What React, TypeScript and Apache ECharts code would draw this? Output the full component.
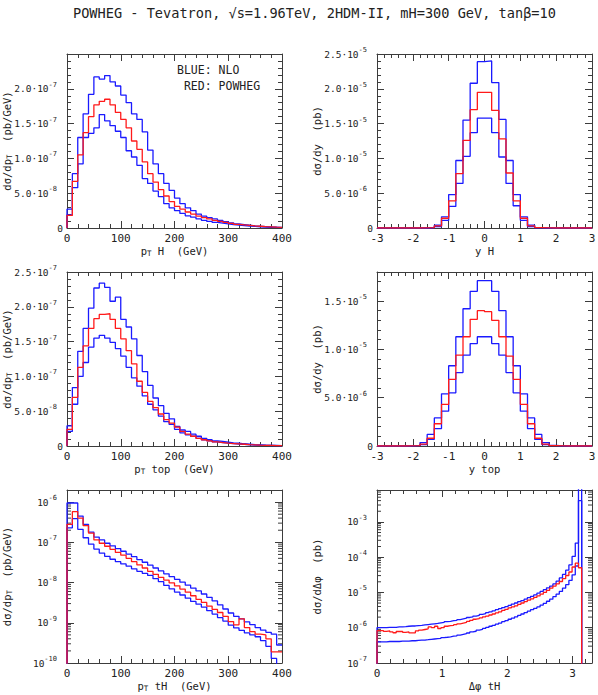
import React, { useEffect, useRef } from 'react';
import * as echarts from 'echarts';

// ---------------- data ----------------
// pT H histogram, 10 GeV bins from 0 to 400, units of 1e-7 pb/GeV
const ptHUpper = [0.27, 0.78, 1.30, 1.64, 1.92, 2.17, 2.14, 2.19, 2.10, 2.04, 1.91, 1.80, 1.64, 1.56, 1.38, 1.12, 0.92, 0.78, 0.64, 0.54, 0.43, 0.35, 0.29, 0.25, 0.20, 0.17, 0.15, 0.13, 0.11, 0.09, 0.075, 0.06, 0.05, 0.04, 0.032, 0.025, 0.02, 0.015, 0.012, 0.01];
const ptHRed = [0.18, 0.67, 1.05, 1.37, 1.60, 1.77, 1.82, 1.85, 1.77, 1.66, 1.56, 1.44, 1.25, 1.13, 0.95, 0.78, 0.66, 0.55, 0.46, 0.38, 0.31, 0.27, 0.23, 0.20, 0.17, 0.15, 0.13, 0.11, 0.095, 0.08, 0.066, 0.053, 0.045, 0.038, 0.03, 0.025, 0.02, 0.016, 0.012, 0.01];
const ptHLower = [0.19, 0.58, 0.92, 1.30, 1.36, 1.44, 1.63, 1.54, 1.47, 1.39, 1.30, 1.11, 1.02, 0.90, 0.71, 0.64, 0.53, 0.45, 0.35, 0.29, 0.25, 0.21, 0.175, 0.155, 0.13, 0.11, 0.095, 0.08, 0.07, 0.06, 0.05, 0.042, 0.035, 0.028, 0.022, 0.017, 0.013, 0.01, 0.008, 0.006];

// y H histogram, 0.2 bins from -3 to 3, units of 1e-5 pb
const yHUpper = [0, 0, 0, 0, 0, 0, 0.0005, 0.005, 0.04, 0.16, 0.48, 0.97, 1.55, 2.08, 2.39, 2.40, 2.09, 1.56, 0.97, 0.48, 0.16, 0.04, 0.005, 0.0005, 0, 0, 0, 0, 0, 0];
const yHRed = [0, 0, 0, 0, 0, 0, 0.0004, 0.004, 0.03, 0.14, 0.39, 0.78, 1.26, 1.70, 1.95, 1.95, 1.69, 1.28, 0.79, 0.39, 0.14, 0.03, 0.004, 0.0004, 0, 0, 0, 0, 0, 0];
const yHLower = [0, 0, 0, 0, 0, 0, 0.0003, 0.003, 0.02, 0.11, 0.31, 0.64, 1.03, 1.37, 1.58, 1.58, 1.37, 1.02, 0.64, 0.32, 0.11, 0.02, 0.003, 0.0003, 0, 0, 0, 0, 0, 0];

// pT top histogram, 10 GeV bins from 0 to 400, units of 1e-7 pb/GeV
const ptTopUpper = [0.29, 0.84, 1.36, 1.69, 1.98, 2.27, 2.34, 2.28, 2.08, 2.14, 1.82, 1.71, 1.54, 1.30, 1.07, 0.87, 0.69, 0.58, 0.47, 0.39, 0.28, 0.23, 0.21, 0.17, 0.14, 0.11, 0.09, 0.075, 0.065, 0.055, 0.045, 0.04, 0.032, 0.026, 0.02, 0.016, 0.012, 0.01, 0.008, 0.006];
const ptTopRed = [0.24, 0.70, 1.13, 1.44, 1.69, 1.83, 1.89, 1.90, 1.82, 1.69, 1.54, 1.37, 1.18, 0.93, 0.77, 0.64, 0.55, 0.46, 0.38, 0.33, 0.27, 0.21, 0.17, 0.14, 0.11, 0.09, 0.075, 0.06, 0.05, 0.04, 0.035, 0.03, 0.025, 0.02, 0.016, 0.012, 0.01, 0.008, 0.006, 0.005];
const ptTopLower = [0.21, 0.60, 1.00, 1.20, 1.42, 1.55, 1.59, 1.55, 1.49, 1.40, 1.29, 1.13, 0.98, 0.86, 0.72, 0.60, 0.52, 0.43, 0.35, 0.31, 0.24, 0.19, 0.16, 0.14, 0.11, 0.09, 0.075, 0.06, 0.05, 0.04, 0.033, 0.027, 0.022, 0.018, 0.014, 0.011, 0.009, 0.007, 0.005, 0.004];

// y top histogram, 0.2 bins from -3 to 3, units of 1e-5 pb
const yTopUpper = [0, 0, 0, 0, 0.001, 0.007, 0.035, 0.12, 0.29, 0.54, 0.83, 1.13, 1.42, 1.60, 1.71, 1.71, 1.60, 1.40, 1.13, 0.83, 0.54, 0.29, 0.12, 0.035, 0.007, 0.001, 0, 0, 0, 0];
const yTopRed = [0, 0, 0, 0, 0.001, 0.004, 0.02, 0.08, 0.23, 0.43, 0.69, 0.94, 1.13, 1.31, 1.40, 1.39, 1.30, 1.13, 0.93, 0.69, 0.43, 0.23, 0.08, 0.02, 0.004, 0.001, 0, 0, 0, 0];
const yTopLower = [0, 0, 0, 0, 0.0005, 0.003, 0.015, 0.07, 0.18, 0.36, 0.55, 0.76, 0.94, 1.06, 1.13, 1.13, 1.06, 0.94, 0.76, 0.55, 0.36, 0.18, 0.07, 0.015, 0.003, 0.0005, 0, 0, 0, 0];

// pT tH histogram, 10 GeV bins from 0 to 400, pb/GeV
const ptTHUpper = [9.5e-7, 9.5e-7, 4.5e-7, 2.8e-7, 1.8e-7, 1.35e-7, 1.15e-7, 9.5e-8, 8.2e-8, 7.0e-8, 6.0e-8, 5.1e-8, 4.4e-8, 3.7e-8, 3.2e-8, 2.7e-8, 2.3e-8, 1.95e-8, 1.65e-8, 1.4e-8, 1.2e-8, 1.02e-8, 8.6e-9, 7.3e-9, 6.2e-9, 5.2e-9, 4.3e-9, 3.5e-9, 2.8e-9, 2.2e-9, 1.75e-9, 1.45e-9, 1.25e-9, 1.05e-9, 9e-10, 7.6e-10, 6.6e-10, 5.8e-10, 5.2e-10, 2.8e-10];
const ptTHRed = [2.8e-7, 5.8e-7, 4.0e-7, 2.6e-7, 1.7e-7, 1.15e-7, 9.5e-8, 8e-8, 6.7e-8, 5.6e-8, 4.8e-8, 4.0e-8, 3.3e-8, 2.75e-8, 2.3e-8, 1.9e-8, 1.6e-8, 1.35e-8, 1.15e-8, 9.8e-9, 8.3e-9, 6.9e-9, 5.75e-9, 4.7e-9, 3.8e-9, 3.2e-9, 2.6e-9, 2.15e-9, 1.8e-9, 1.45e-9, 1.07e-9, 8.9e-10, 1.25e-9, 7.6e-10, 6e-10, 5.2e-10, 5e-10, 4e-10, 1.9e-10, 1.9e-10];
const ptTHLower = [2.3e-7, 3.9e-7, 2.1e-7, 1.3e-7, 9e-8, 6.8e-8, 5.4e-8, 4.5e-8, 3.8e-8, 3.3e-8, 2.9e-8, 2.55e-8, 2.2e-8, 1.9e-8, 1.7e-8, 1.5e-8, 1.25e-8, 1.05e-8, 8.5e-9, 7e-9, 5.8e-9, 4.9e-9, 4.1e-9, 3.4e-9, 2.9e-9, 2.45e-9, 2.0e-9, 1.65e-9, 1.35e-9, 1.1e-9, 8.7e-10, 7.5e-10, 6.5e-10, 5.6e-10, 5e-10, 4.5e-10, 3.6e-10, 2.6e-10, 1.3e-10, 9e-11];

// delta phi tH histogram, 64 bins from 0 to pi, pb
const dphiUpper = [1.0e-6, 1.0e-6, 1.0e-6, 1.02e-6, 1.02e-6, 1.02e-6, 1.05e-6, 1.05e-6, 1.07e-6, 1.1e-6,
  1.12e-6, 1.12e-6, 1.15e-6, 1.17e-6, 1.2e-6, 1.23e-6, 1.26e-6, 1.29e-6, 1.32e-6, 1.38e-6,
  1.41e-6, 1.48e-6, 1.51e-6, 1.58e-6, 1.62e-6, 1.7e-6, 1.78e-6, 1.86e-6, 1.95e-6, 2.04e-6,
  2.14e-6, 2.24e-6, 2.4e-6, 2.51e-6, 2.69e-6, 2.82e-6, 3.02e-6, 3.24e-6, 3.47e-6, 3.72e-6,
  3.98e-6, 4.27e-6, 4.68e-6, 5.01e-6, 5.5e-6, 5.89e-6, 6.46e-6, 7.08e-6, 7.76e-6, 8.51e-6,
  9.55e-6, 1.07e-5, 1.2e-5, 1.35e-5, 1.51e-5, 1.74e-5, 2.09e-5, 2.57e-5, 3.24e-5, 4.27e-5,
  6.03e-5, 1.05e-4, 2.5e-4, 3e-2];
const dphiRed = [8.3e-7, 8.3e-7, 7.9e-7, 8.1e-7, 7.6e-7, 7.2e-7, 7.8e-7, 7.9e-7, 7.4e-7, 7.6e-7,
  7.1e-7, 7.2e-7, 8.1e-7, 8.5e-7, 8.9e-7, 9.3e-7, 1.05e-6, 1.0e-6, 1.1e-6, 9.5e-7,
  1.0e-6, 1.1e-6, 1.15e-6, 1.17e-6, 1.23e-6, 1.29e-6, 1.35e-6, 1.41e-6, 1.51e-6, 1.62e-6,
  1.74e-6, 1.82e-6, 1.91e-6, 2.04e-6, 2.14e-6, 2.29e-6, 2.45e-6, 2.63e-6, 2.82e-6, 3.09e-6,
  3.31e-6, 3.63e-6, 3.89e-6, 4.17e-6, 4.57e-6, 5.01e-6, 5.5e-6, 6.03e-6, 6.61e-6, 7.24e-6,
  7.94e-6, 8.91e-6, 1.0e-5, 1.15e-5, 1.32e-5, 1.51e-5, 1.74e-5, 2.04e-5, 2.45e-5, 3.02e-5,
  3.8e-5, 5.25e-5, 6.76e-5, 5.0e-5];
const dphiLower = [3.98e-7, 3.98e-7, 3.98e-7, 4.07e-7, 4.07e-7, 4.07e-7, 4.07e-7, 4.17e-7, 4.17e-7, 4.17e-7,
  4.27e-7, 4.27e-7, 4.37e-7, 4.47e-7, 4.47e-7, 4.57e-7, 4.68e-7, 4.79e-7, 4.9e-7, 5.01e-7,
  5.25e-7, 5.37e-7, 5.5e-7, 5.75e-7, 5.89e-7, 6.17e-7, 6.46e-7, 6.76e-7, 7.08e-7, 7.59e-7,
  7.94e-7, 8.51e-7, 8.91e-7, 9.55e-7, 1.02e-6, 1.1e-6, 1.17e-6, 1.26e-6, 1.35e-6, 1.48e-6,
  1.58e-6, 1.74e-6, 1.86e-6, 2.04e-6, 2.24e-6, 2.45e-6, 2.69e-6, 2.95e-6, 3.24e-6, 3.55e-6,
  3.89e-6, 4.37e-6, 4.9e-6, 5.62e-6, 6.46e-6, 7.59e-6, 8.91e-6, 1.07e-5, 1.32e-5, 1.66e-5,
  2.19e-5, 3.16e-5, 5.62e-5, 4e-3];

const titleText = 'POWHEG - Tevatron, \u221As=1.96TeV, 2HDM-II, mH=300 GeV, tan\u03B2=10';
const legendLines = ['BLUE: NLO', ' RED: POWHEG'];

// ---------------- helpers ----------------
const FONT = "'DejaVu Sans Mono', monospace";
const TXT = '#222';
const FRAME = '#3c3c3c';
const BLUE = '#1a1aff';
const RED = '#ff1a1a';

const edges = (start: number, width: number, n: number) => Array.from({ length: n + 1 }, (_, i) => start + i * width);

function stepData(e: number[], vals: number[], scale: number, base: number, dropAtEnd: boolean) {
  const pts: number[][] = [[e[0], base]];
  vals.forEach((v, i) => pts.push([e[i], v * scale]));
  pts.push([e[vals.length], dropAtEnd ? base : vals[vals.length - 1] * scale]);
  return pts;
}

const richText = {
  b: { fontFamily: FONT, fontSize: 9.5, lineHeight: 15, color: TXT },
  s: { fontFamily: FONT, fontSize: 7, lineHeight: 7, verticalAlign: 'top', color: TXT },
  g: { width: 6, fontSize: 9.5, lineHeight: 15 },
};
const nameRich = {
  b: { fontFamily: FONT, fontSize: 10.5, lineHeight: 12, color: TXT },
  t: { fontFamily: FONT, fontSize: 7.5, lineHeight: 6, verticalAlign: 'bottom', color: TXT },
};

const sciFmt = (v: number) => {
  if (v === 0) return '{b|0}';
  const e = Math.floor(Math.log10(Math.abs(v)) + 1e-9);
  const m = v / Math.pow(10, e);
  return `{b|${m.toFixed(1)}\u00B710}{s|${e}}{g| }`;
};
const logFmt = (v: number) => {
  const l = Math.log10(v);
  const r = Math.round(l);
  if (Math.abs(l - r) > 0.01) return '';
  return `{b|10}{s|${r}}{g| }`;
};
const intFmt = (v: number) => (Math.abs(v - Math.round(v)) < 1e-6 ? String(Math.round(v)) : '');

type Panel = {
  left: number; top: number; height: number;
  xMin: number; xMax: number; xInt: number;
  yLog: boolean; yMin: number; yMax: number; yInt?: number; showYMax: boolean;
  xName: string; yName: string;
  series: { data: number[][]; color: string }[];
  logMinor?: number[];
};

function buildOption() {
  const ptE = edges(0, 10, 40);
  const yE = edges(-3, 0.2, 30);
  const dE = edges(0, Math.PI / 64, 64);
  const LOGBASE = 1e-14;

  const minorTicks = (lo: number, hi: number, max: number) => {
    const out: number[] = [];
    for (let d = lo; d <= hi; d++) for (let k = 2; k <= 9; k++) {
      const v = k * Math.pow(10, d);
      if (v < max) out.push(v);
    }
    return out;
  };

  const W = 215;
  const panels: Panel[] = [
    {
      left: 67, top: 54, height: 174, xMin: 0, xMax: 400, xInt: 100,
      yLog: false, yMin: 0, yMax: 2.5e-7, yInt: 5e-8, showYMax: false,
      xName: '{b|p}{t|T}{b| H  (GeV)}', yName: '{b|d\u03C3/dp}{t|T}{b|  (pb/GeV)}',
      series: [
        { data: stepData(ptE, ptHUpper, 1e-7, 0, false), color: BLUE },
        { data: stepData(ptE, ptHLower, 1e-7, 0, false), color: BLUE },
        { data: stepData(ptE, ptHRed, 1e-7, 0, false), color: RED },
      ],
    },
    {
      left: 377, top: 54, height: 174, xMin: -3, xMax: 3, xInt: 1,
      yLog: false, yMin: 0, yMax: 2.5e-5, yInt: 5e-6, showYMax: true,
      xName: '{b|y H}', yName: '{b|d\u03C3/dy  (pb)}',
      series: [
        { data: stepData(yE, yHUpper, 1e-5, 0, false), color: BLUE },
        { data: stepData(yE, yHLower, 1e-5, 0, false), color: BLUE },
        { data: stepData(yE, yHRed, 1e-5, 0, false), color: RED },
      ],
    },
    {
      left: 67, top: 272, height: 174, xMin: 0, xMax: 400, xInt: 100,
      yLog: false, yMin: 0, yMax: 2.5e-7, yInt: 5e-8, showYMax: true,
      xName: '{b|p}{t|T}{b| top  (GeV)}', yName: '{b|d\u03C3/dp}{t|T}{b|  (pb/GeV)}',
      series: [
        { data: stepData(ptE, ptTopUpper, 1e-7, 0, false), color: BLUE },
        { data: stepData(ptE, ptTopLower, 1e-7, 0, false), color: BLUE },
        { data: stepData(ptE, ptTopRed, 1e-7, 0, false), color: RED },
      ],
    },
    {
      left: 377, top: 272, height: 174, xMin: -3, xMax: 3, xInt: 1,
      yLog: false, yMin: 0, yMax: 1.8e-5, yInt: 5e-6, showYMax: false,
      xName: '{b|y top}', yName: '{b|d\u03C3/dy  (pb)}',
      series: [
        { data: stepData(yE, yTopUpper, 1e-5, 0, false), color: BLUE },
        { data: stepData(yE, yTopLower, 1e-5, 0, false), color: BLUE },
        { data: stepData(yE, yTopRed, 1e-5, 0, false), color: RED },
      ],
    },
    {
      left: 67, top: 490, height: 173, xMin: 0, xMax: 400, xInt: 100,
      yLog: true, yMin: 1e-10, yMax: 2e-6, showYMax: false,
      xName: '{b|p}{t|T}{b| tH  (GeV)}', yName: '{b|d\u03C3/dp}{t|T}{b|  (pb/GeV)}',
      series: [
        { data: stepData(ptE, ptTHUpper, 1, LOGBASE, false), color: BLUE },
        { data: stepData(ptE, ptTHLower, 1, LOGBASE, false), color: BLUE },
        { data: stepData(ptE, ptTHRed, 1, LOGBASE, false), color: RED },
      ],
      logMinor: minorTicks(-10, -6, 2e-6),
    },
    {
      left: 377, top: 490, height: 173, xMin: 0, xMax: 3.3, xInt: 1,
      yLog: true, yMin: 1e-7, yMax: 8e-3, showYMax: false,
      xName: '{b|\u0394\u03C6 tH}', yName: '{b|d\u03C3/d\u0394\u03C6  (pb)}',
      series: [
        { data: stepData(dE, dphiUpper, 1, LOGBASE, true), color: BLUE },
        { data: stepData(dE, dphiLower, 1, LOGBASE, true), color: BLUE },
        { data: stepData(dE, dphiRed, 1, LOGBASE, true), color: RED },
      ],
      logMinor: minorTicks(-7, -3, 8e-3),
    },
  ];

  const grid: any[] = [];
  const xAxis: any[] = [];
  const yAxis: any[] = [];
  const series: any[] = [];

  const tickCommon = {
    splitLine: { show: false },
    axisLine: { show: true, onZero: false, lineStyle: { color: FRAME, width: 1 } },
    axisTick: { show: true, inside: true, length: 7, lineStyle: { color: FRAME, width: 1 } },
  };

  panels.forEach((p, g) => {
    grid.push({ left: p.left, top: p.top, width: W, height: p.height, outerBoundsMode: 'none' });
    const xBase = {
      ...tickCommon, type: 'value', gridIndex: g, min: p.xMin, max: p.xMax, interval: p.xInt,
      minorTick: { show: true, splitNumber: 5, length: 4, lineStyle: { color: FRAME, width: 1 } },
    };
    xAxis.push({
      ...xBase, position: 'bottom',
      axisLabel: { show: true, margin: 4, fontFamily: FONT, fontSize: 11, lineHeight: 12, color: TXT, formatter: intFmt, showMaxLabel: p.xMax !== 3.3 },
      name: p.xName, nameLocation: 'middle', nameGap: 17, nameMoveOverlap: false,
      nameTextStyle: { rich: nameRich, color: TXT },
    });
    xAxis.push({ ...xBase, position: 'top', axisLabel: { show: false } });

    const yBase: any = p.yLog
      ? {
          ...tickCommon, type: 'log', logBase: 10, gridIndex: g, min: p.yMin, max: p.yMax,
          minorTick: { show: false },
        }
      : {
          ...tickCommon, type: 'value', gridIndex: g, min: p.yMin, max: p.yMax, interval: p.yInt,
          minorTick: { show: true, splitNumber: 5, length: 4, lineStyle: { color: FRAME, width: 1 } },
        };
    yAxis.push({
      ...yBase, position: 'left',
      axisLabel: {
        show: true, margin: 4, formatter: p.yLog ? logFmt : sciFmt, rich: richText,
        showMaxLabel: p.showYMax, showMinLabel: true,
      },
      name: p.yName, nameLocation: 'middle', nameGap: 54, nameMoveOverlap: false,
      nameTextStyle: { rich: nameRich, color: TXT },
    });
    yAxis.push({ ...yBase, position: 'right', axisLabel: { show: false } });

    p.series.forEach((s, i) => {
      series.push({
        type: 'line', xAxisIndex: 2 * g, yAxisIndex: 2 * g, data: s.data, step: 'end',
        symbol: 'none', showSymbol: false, clip: true, silent: true, z: 3 + i,
        lineStyle: { color: s.color, width: 1.3 },
      });
    });

    if (p.logMinor) {
      const xMin = p.xMin, xMax = p.xMax;
      series.push({
        type: 'custom', xAxisIndex: 2 * g, yAxisIndex: 2 * g, silent: true, z: 2,
        data: p.logMinor.map((v) => [xMin, v]),
        renderItem: (_params: any, api: any) => {
          const v = api.value(1);
          const a = api.coord([xMin, v]);
          const b = api.coord([xMax, v]);
          return {
            type: 'group',
            children: [
              { type: 'line', shape: { x1: a[0], y1: a[1], x2: a[0] + 4, y2: a[1] }, style: { stroke: FRAME, lineWidth: 1 } },
              { type: 'line', shape: { x1: b[0] - 4, y1: b[1], x2: b[0], y2: b[1] }, style: { stroke: FRAME, lineWidth: 1 } },
            ],
          };
        },
      });
    }
  });

  const graphic: any[] = [
    { type: 'text', left: 73, top: 6, style: { text: titleText, font: `13.6px ${FONT}`, fill: TXT } },
    { type: 'text', left: 177, top: 64, style: { text: legendLines[0], font: `11.5px ${FONT}`, fill: TXT } },
    { type: 'text', left: 177, top: 80, style: { text: legendLines[1], font: `11.5px ${FONT}`, fill: TXT } },
  ];

  return {
    animation: false,
    backgroundColor: '#ffffff',
    grid, xAxis, yAxis, series, graphic,
  };
}

export default function App() {
  const ref = useRef<HTMLDivElement>(null);
  useEffect(() => {
    if (!ref.current) return;
    const chart = echarts.init(ref.current, undefined, { renderer: 'svg' });
    chart.setOption(buildOption() as any);
    return () => chart.dispose();
  }, []);
  return <div ref={ref} style={{ position: 'absolute', left: 0, top: 0, width: 598, height: 695 }} />;
}
